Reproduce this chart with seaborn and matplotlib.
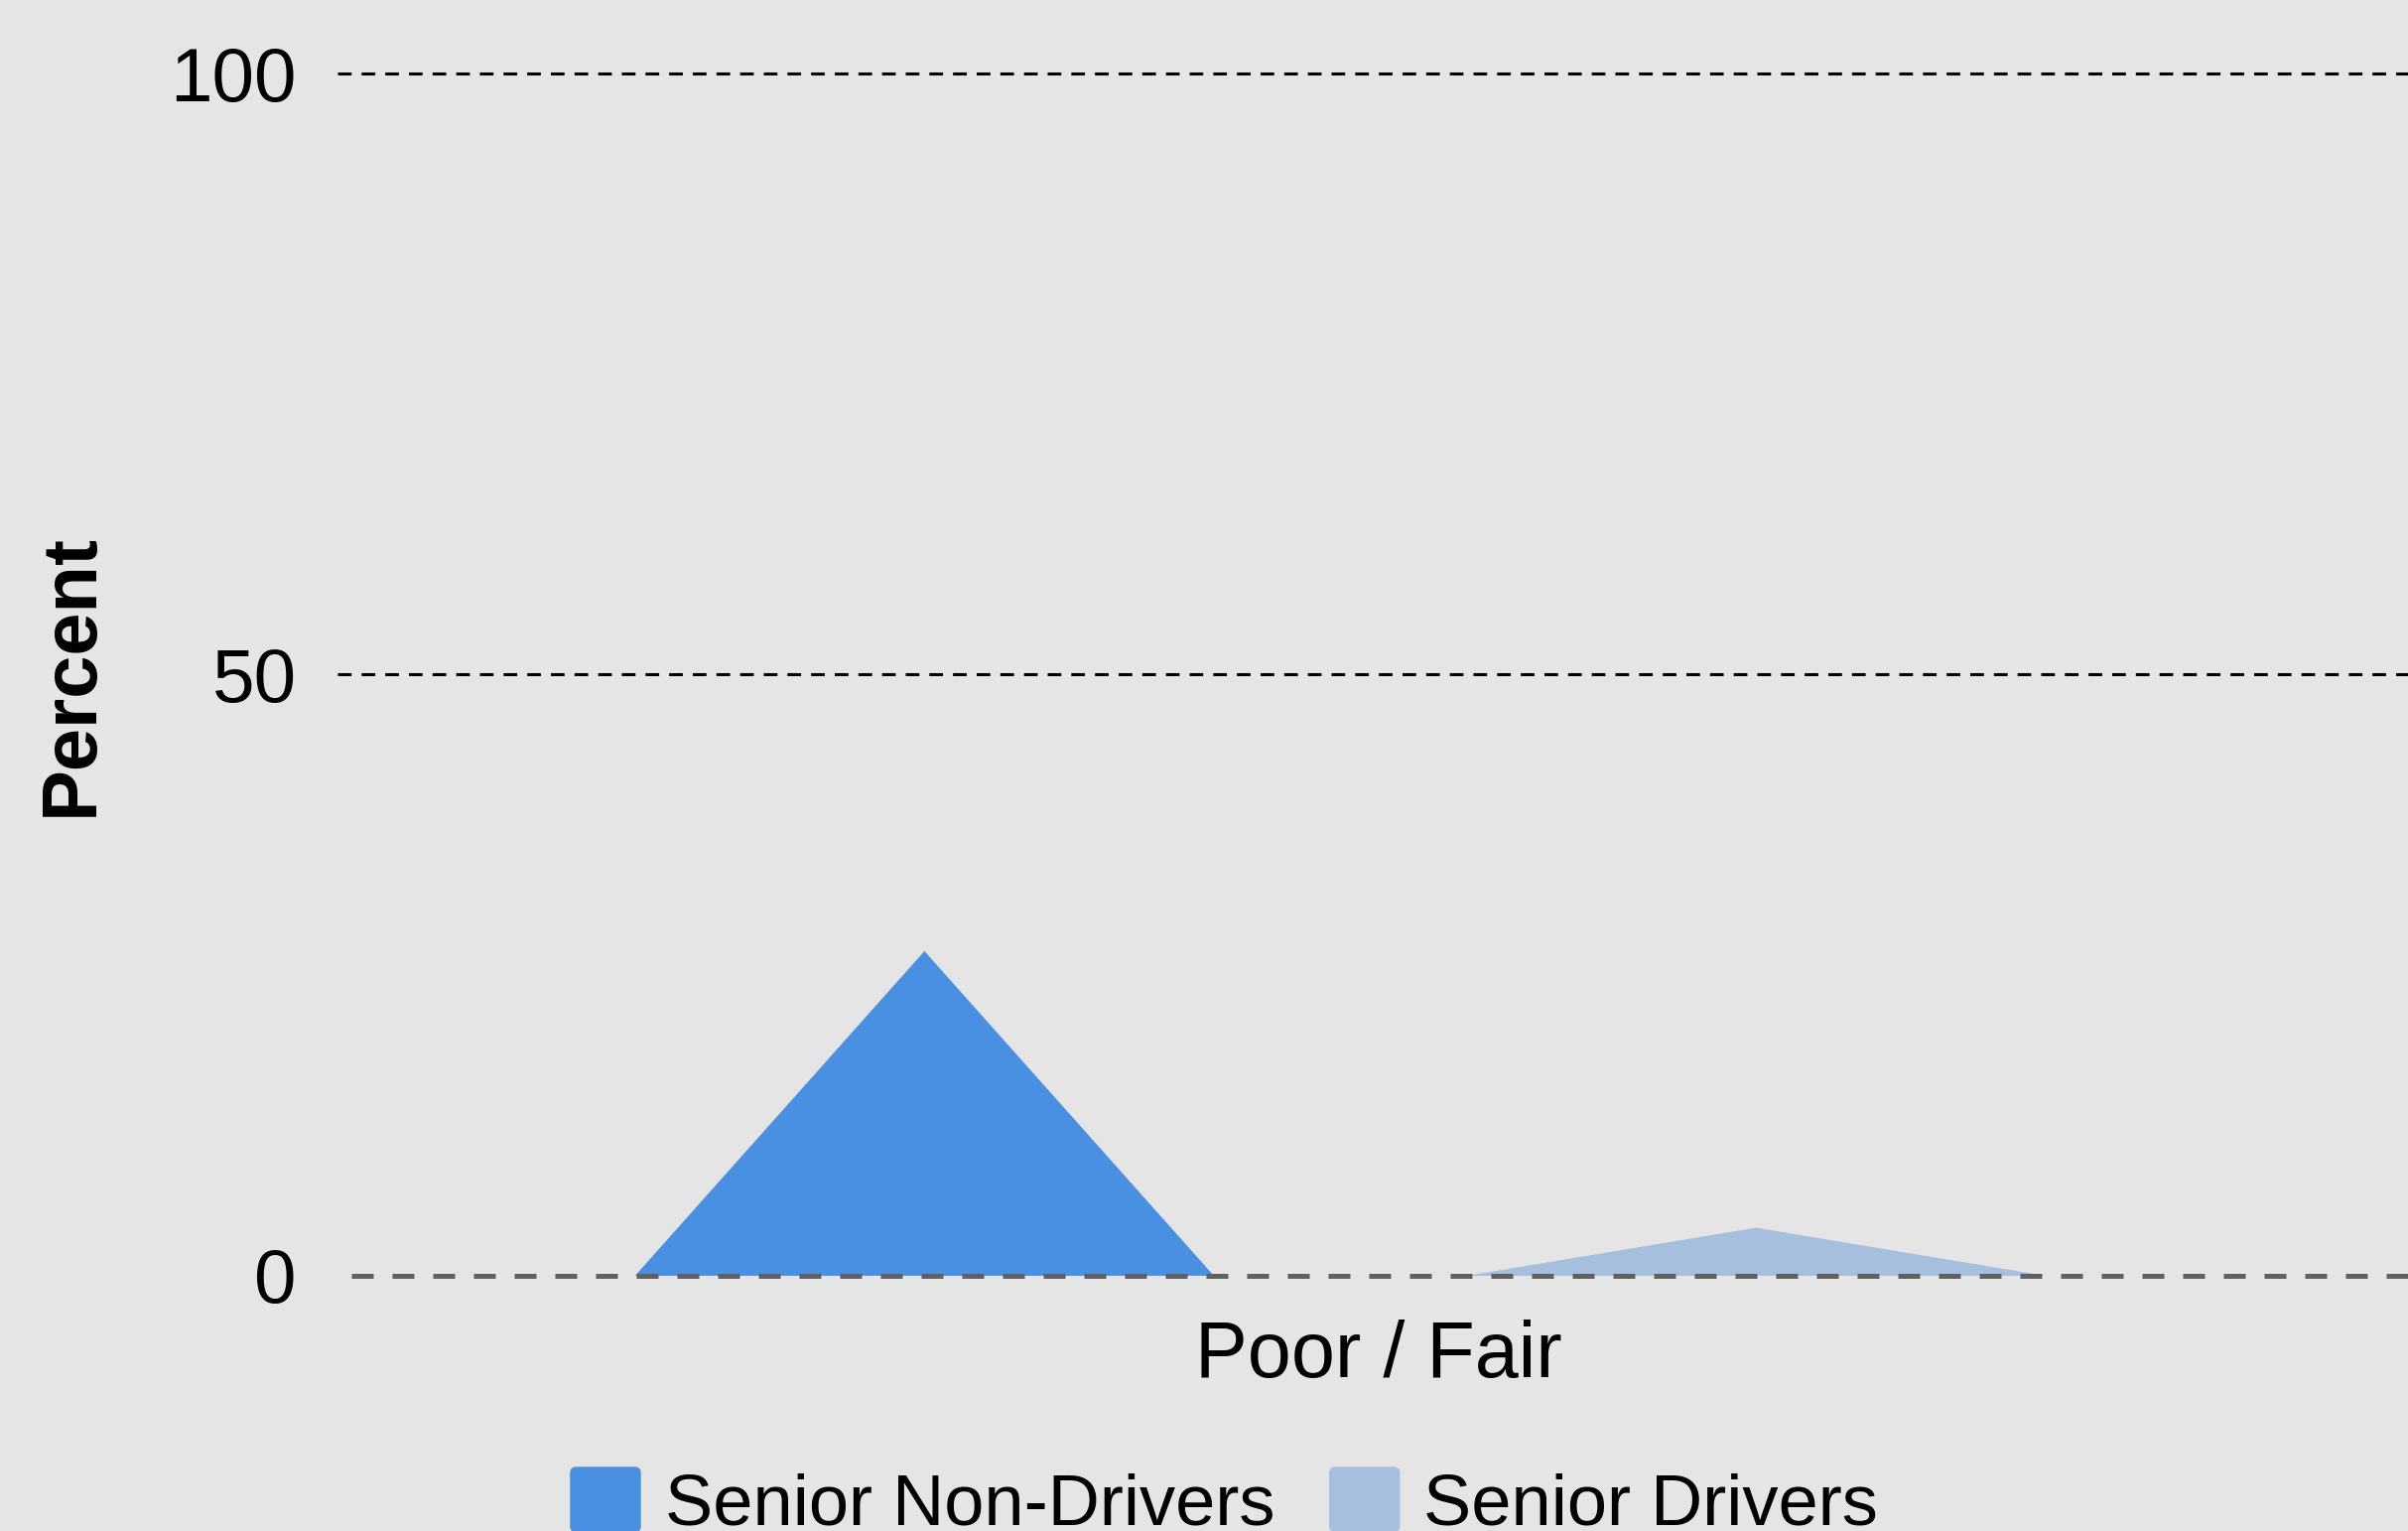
import matplotlib
matplotlib.use("Agg")
import numpy as np
import pandas as pd
import matplotlib.pyplot as plt
import seaborn as sns
from matplotlib.patches import Patch, FancyBboxPatch
from matplotlib.legend_handler import HandlerPatch

# data
categories = ['Poor / Fair']
series_names = ['Senior Non-Drivers', 'Senior Drivers']
non_drivers = [27]
drivers = [4]
y_ticks = [0, 50, 100]

colors = {'Senior Non-Drivers': '#4a90e2', 'Senior Drivers': '#a7bfdf'}
offsets = {'Senior Non-Drivers': -0.273, 'Senior Drivers': 0.227}
peak_width = 0.348

df = pd.DataFrame({
    'category': categories * 2,
    'series': [series_names[0]] * len(categories) + [series_names[1]] * len(categories),
    'value': non_drivers + drivers,
})

sns.set_style('white', {'axes.facecolor': '#e5e5e5', 'figure.facecolor': '#e5e5e5',
                        'text.color': 'black', 'axes.labelcolor': 'black'})
plt.rcParams['font.family'] = ['Liberation Sans', 'DejaVu Sans']

fig = plt.figure(figsize=(24.26, 15.42), dpi=100)
ax = fig.add_axes([0.1401, 0.1667, 0.8599, 0.7853])

# peaked (triangle) bars
for _, row in df.iterrows():
    c = categories.index(row['category']) + offsets[row['series']]
    xs = [c - peak_width / 2, c, c + peak_width / 2]
    ys = [0, row['value'], 0]
    ax.fill(xs, ys, color=colors[row['series']], lw=0, zorder=2)

ax.set_xlim(-0.626, 0.619)
ax.set_ylim(0, 100)
ax.set_xticks(range(len(categories)))
ax.set_xticklabels(categories)
ax.set_yticks(y_ticks)
ax.set_yticklabels([str(t) for t in y_ticks])
ax.tick_params(axis='both', length=0, colors='black')
ax.tick_params(axis='y', pad=29.5, labelsize=55)
ax.tick_params(axis='x', pad=32, labelsize=57)

for t in y_ticks[1:]:
    ax.axhline(t, color='black', lw=2.2, ls=(0, (4.5, 3.3)), zorder=1, clip_on=False)
ax.axhline(0, xmin=0.0067, color='#606060', lw=3.6, ls=(0, (4.4, 3.8)), zorder=3, clip_on=False)

sns.despine(ax=ax, left=True, bottom=True)
ax.set_ylabel('Percent', fontsize=56, fontweight='bold', labelpad=45, color='black')
ax.set_xlabel('')


def rounded_patch(legend, orig_handle, xdescent, ydescent, width, height, fontsize):
    return FancyBboxPatch((-xdescent, -ydescent), width, height,
                          boxstyle='round,pad=0,rounding_size=%f' % (0.08 * width))


handles = [Patch(color=colors[s], label=s) for s in series_names]
fig.legend(handles=handles, loc='upper left', bbox_to_anchor=(0.237, 0.0415),
           ncol=2, frameon=False, fontsize=52, borderpad=0, borderaxespad=0,
           handlelength=0.97, handleheight=1.0, handletextpad=0.34, columnspacing=0.77,
           labelcolor='black',
           handler_map={Patch: HandlerPatch(patch_func=rounded_patch)})

fig.savefig('out.png', dpi=100)
